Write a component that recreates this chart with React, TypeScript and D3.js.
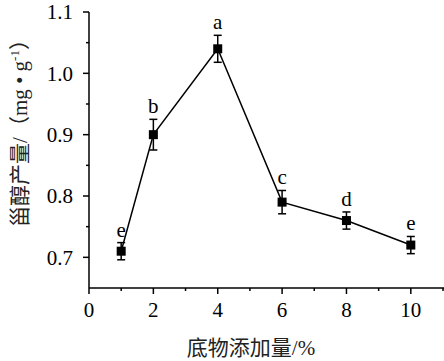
import { useEffect, useRef } from "react";
import * as d3 from "d3";

// substrate addition (%) and sterol yield (mg/g)
const doses = [1, 2, 4, 6, 8, 10];
const yields = [0.71, 0.9, 1.04, 0.79, 0.76, 0.72];
const errors = [0.014, 0.025, 0.022, 0.019, 0.014, 0.014];
const letters = ["e", "b", "a", "c", "d", "e"];
const xTicks = [0, 2, 4, 6, 8, 10];
const yTicks = [0.7, 0.8, 0.9, 1.0, 1.1];

const App = () => {
  const svgRef = useRef<SVGSVGElement>(null);

  useEffect(() => {
    const width = 444;
    const height = 361;
    const margin = { top: 12, right: 1, bottom: 73, left: 89 };
    const font = "'Liberation Serif', 'Noto Sans CJK SC', serif";

    const svg = d3.select(svgRef.current);
    svg.selectAll("*").remove();
    svg.attr("width", width).attr("height", height);

    const x = d3.scaleLinear().domain([0, 11]).range([margin.left, width - margin.right]);
    const y = d3.scaleLinear().domain([0.65, 1.1]).range([height - margin.bottom, margin.top]);

    const x0 = margin.left;
    const y0 = height - margin.bottom;

    // minor ticks
    const xMinor = d3.range(1, 12, 2);
    const yMinor = [0.75, 0.85, 0.95, 1.05];

    // X axis
    const gx = svg.append("g").attr("transform", `translate(0,${y0})`);
    gx.append("line")
      .attr("x1", x0).attr("x2", width).attr("y1", 0).attr("y2", 0)
      .attr("stroke", "#000").attr("stroke-width", 1.5);
    gx.selectAll("line.major").data(xTicks).enter().append("line")
      .attr("class", "major")
      .attr("x1", (d) => x(d)).attr("x2", (d) => x(d))
      .attr("y1", 0).attr("y2", 6)
      .attr("stroke", "#000").attr("stroke-width", 1.5);
    gx.selectAll("line.minor").data(xMinor).enter().append("line")
      .attr("class", "minor")
      .attr("x1", (d) => x(d)).attr("x2", (d) => x(d))
      .attr("y1", 0).attr("y2", 3)
      .attr("stroke", "#000").attr("stroke-width", 1.5);
    gx.selectAll("text").data(xTicks).enter().append("text")
      .attr("x", (d) => x(d)).attr("y", 29)
      .attr("text-anchor", "middle")
      .attr("font-family", font).attr("font-size", 21)
      .text((d) => d);

    // Y axis
    const gy = svg.append("g").attr("transform", `translate(${x0},0)`);
    gy.append("line")
      .attr("x1", 0).attr("x2", 0).attr("y1", y(1.1)).attr("y2", y0)
      .attr("stroke", "#000").attr("stroke-width", 1.5);
    gy.selectAll("line.major").data(yTicks).enter().append("line")
      .attr("class", "major")
      .attr("x1", -6).attr("x2", 0)
      .attr("y1", (d) => y(d)).attr("y2", (d) => y(d))
      .attr("stroke", "#000").attr("stroke-width", 1.5);
    gy.selectAll("line.minor").data(yMinor).enter().append("line")
      .attr("class", "minor")
      .attr("x1", -3).attr("x2", 0)
      .attr("y1", (d) => y(d)).attr("y2", (d) => y(d))
      .attr("stroke", "#000").attr("stroke-width", 1.5);
    gy.selectAll("text").data(yTicks).enter().append("text")
      .attr("x", -16).attr("y", (d) => y(d))
      .attr("dy", "0.35em")
      .attr("text-anchor", "end")
      .attr("font-family", font).attr("font-size", 21)
      .text((d) => d.toFixed(1));

    // axis titles
    svg.append("text")
      .attr("x", 251).attr("y", 355)
      .attr("text-anchor", "middle")
      .attr("font-family", font).attr("font-size", 21)
      .attr("fill", "#222")
      .text("底物添加量/%");

    const yt = svg.append("text")
      .attr("transform", "translate(27,128) rotate(-90)")
      .attr("text-anchor", "middle")
      .attr("font-family", font).attr("font-size", 21)
      .attr("fill", "#222");
    yt.append("tspan").text("甾醇产量/（mg • g");
    yt.append("tspan").attr("dy", -8).attr("font-size", 13).text("-1");
    yt.append("tspan").attr("dy", 8).text("）");

    const data = doses.map((d, i) => ({ x: d, y: yields[i], e: errors[i], l: letters[i] }));

    // line
    const line = d3.line<{ x: number; y: number }>().x((d) => x(d.x)).y((d) => y(d.y));
    svg.append("path")
      .datum(data)
      .attr("fill", "none")
      .attr("stroke", "#000")
      .attr("stroke-width", 1.5)
      .attr("d", line);

    // error bars
    const eb = svg.append("g").attr("stroke", "#000").attr("stroke-width", 1.5);
    data.forEach((d) => {
      const cx = x(d.x);
      eb.append("line").attr("x1", cx).attr("x2", cx).attr("y1", y(d.y + d.e)).attr("y2", y(d.y - d.e));
      eb.append("line").attr("x1", cx - 4).attr("x2", cx + 4).attr("y1", y(d.y + d.e)).attr("y2", y(d.y + d.e));
      eb.append("line").attr("x1", cx - 4).attr("x2", cx + 4).attr("y1", y(d.y - d.e)).attr("y2", y(d.y - d.e));
    });

    // markers
    svg.selectAll("rect.pt").data(data).enter().append("rect")
      .attr("class", "pt")
      .attr("x", (d) => x(d.x) - 4.5)
      .attr("y", (d) => y(d.y) - 4.5)
      .attr("width", 9).attr("height", 9)
      .attr("fill", "#000");

    // significance letters
    svg.selectAll("text.sig").data(data).enter().append("text")
      .attr("class", "sig")
      .attr("x", (d) => x(d.x))
      .attr("y", (d) => y(d.y + d.e) - 6)
      .attr("text-anchor", "middle")
      .attr("font-family", font).attr("font-size", 21)
      .text((d) => d.l);
  }, []);

  return <svg ref={svgRef} style={{ position: "absolute", left: 0, top: 0 }}></svg>;
};

export default App;
